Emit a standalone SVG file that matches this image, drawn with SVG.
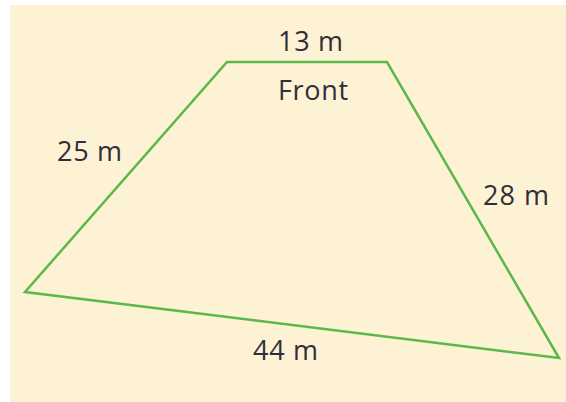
<svg xmlns="http://www.w3.org/2000/svg" width="566" height="402" viewBox="0 0 566 402">
<style>
.lbl{font-family:"Open Sans","Liberation Sans",sans-serif;font-size:27px;font-weight:500;fill:#2f2f3a}
.edge{fill:none;stroke:#5cb84a;stroke-width:2.5;stroke-linejoin:miter}
</style>
<rect x="0" y="0" width="566" height="402" fill="#ffffff"/>
<rect x="10" y="5" width="556" height="397" fill="#fdf2d3"/>
<g id="connectors">
<polygon class="edge" points="227,62 387,62 559,358 25,292"/>
</g>
<g id="label-top"><text class="lbl" x="278" y="51" textLength="65">13 m</text></g>
<g id="label-front"><text class="lbl" x="278" y="100" textLength="70">Front</text></g>
<g id="label-left"><text class="lbl" x="57" y="161" textLength="65">25 m</text></g>
<g id="label-right"><text class="lbl" x="483" y="205" textLength="66">28 m</text></g>
<g id="label-bottom"><text class="lbl" x="253" y="360" textLength="65">44 m</text></g>
</svg>
